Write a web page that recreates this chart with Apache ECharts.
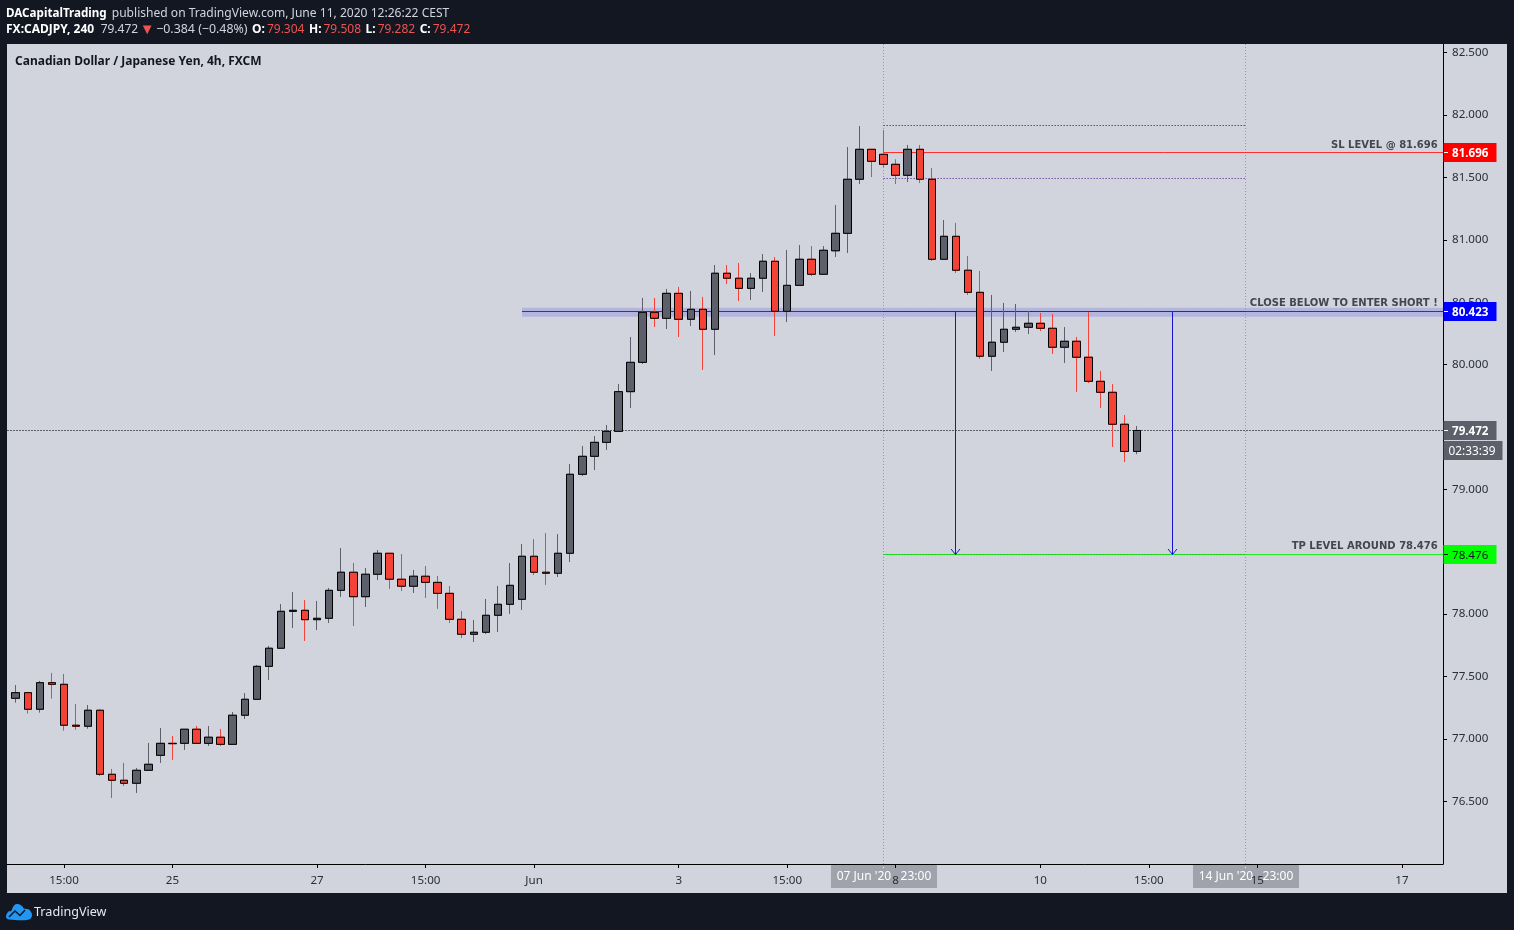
<!DOCTYPE html>
<html>
<head>
<meta charset="utf-8">
<style>html,body{margin:0;padding:0;background:#131722}#c{width:1514px;height:930px}</style>
<script src="https://cdn.jsdelivr.net/npm/echarts@6/dist/echarts.min.js"></script>
</head>
<body>
<div id="c"></div>
<script>
const opens=[77.326,77.371,77.238,77.451,77.438,77.110,77.102,77.230,76.717,76.669,76.645,76.749,76.869,76.965,76.965,77.078,76.965,77.014,76.957,77.190,77.318,77.582,77.727,78.023,78.031,77.956,77.967,78.191,78.336,78.140,78.320,78.488,78.280,78.224,78.304,78.255,78.167,77.959,77.839,77.855,77.991,78.079,78.119,78.464,78.336,78.328,78.488,79.121,79.265,79.377,79.465,79.783,80.018,80.419,80.371,80.571,80.363,80.443,80.283,80.732,80.692,80.611,80.692,80.828,80.427,80.635,80.844,80.724,80.912,81.052,81.485,81.725,81.685,81.605,81.517,81.725,81.485,80.844,81.028,80.756,80.579,80.067,80.179,80.283,80.299,80.331,80.291,80.139,80.187,80.059,79.866,79.778,79.522,79.304];
const highs=[77.432,77.371,77.465,77.529,77.521,77.280,77.272,77.240,76.760,76.808,76.768,76.968,77.088,77.024,77.078,77.104,77.104,77.080,77.216,77.368,77.593,77.745,78.082,78.178,78.114,78.106,78.210,78.530,78.410,78.370,78.514,78.488,78.482,78.354,78.386,78.306,78.226,78.026,77.953,78.122,78.226,78.410,78.562,78.602,78.650,78.642,79.203,79.348,79.428,79.516,79.844,80.221,80.534,80.534,80.606,80.622,80.590,80.542,80.798,80.798,80.814,80.734,80.886,80.862,80.918,80.958,80.950,80.950,81.279,81.744,81.912,81.725,81.880,81.645,81.760,81.760,81.575,81.159,81.135,80.870,80.750,80.558,80.494,80.486,80.430,80.414,80.406,80.301,80.221,80.422,79.949,79.844,79.596,79.508];
const lows=[77.291,77.203,77.211,77.323,77.066,77.074,77.082,76.703,76.527,76.623,76.567,76.749,76.808,76.832,76.912,76.965,76.944,76.944,76.957,77.160,77.318,77.473,77.727,77.889,77.785,77.873,77.929,78.138,77.905,78.058,78.274,78.202,78.186,78.170,78.130,78.042,77.929,77.809,77.777,77.841,77.857,78.002,78.034,78.314,78.234,78.298,78.418,79.107,79.155,79.316,79.460,79.652,80.005,80.301,80.285,80.221,80.309,79.957,80.077,80.646,80.509,80.518,80.582,80.229,80.341,80.635,80.710,80.724,80.862,80.894,81.447,81.503,81.581,81.447,81.463,81.455,80.830,80.844,80.734,80.558,80.045,79.949,80.101,80.261,80.245,80.269,80.085,80.013,79.780,79.852,79.652,79.340,79.219,79.282];
const closes=[77.371,77.238,77.451,77.438,77.110,77.102,77.230,76.717,76.669,76.645,76.749,76.797,76.965,76.962,77.078,76.965,77.014,76.957,77.190,77.318,77.582,77.727,78.023,78.031,77.956,77.967,78.191,78.336,78.140,78.320,78.488,78.280,78.224,78.304,78.255,78.167,77.959,77.839,77.855,77.991,78.079,78.231,78.464,78.336,78.328,78.488,79.121,79.265,79.377,79.465,79.783,80.018,80.419,80.371,80.571,80.363,80.443,80.283,80.732,80.692,80.611,80.692,80.828,80.427,80.635,80.844,80.724,80.916,81.052,81.485,81.725,81.629,81.605,81.517,81.725,81.485,80.844,81.028,80.756,80.579,80.067,80.179,80.283,80.299,80.331,80.291,80.139,80.187,80.059,79.866,79.778,79.522,79.304,79.472];

const xTickIndex=[4,13,25,34,43,55,64,73,85,94,103,115];
const xTickLabels=['15:00','25','27','15:00','Jun','3','15:00','8','10','15:00','15','17'];
const yTicks=[76.5,77,77.5,78,78.5,79,79.5,80,80.5,81,81.5,82,82.5];

const xMin=-0.7259, xMax=118.405, yMin=75.998, yMax=82.569;

const lastPrice=79.472, slPrice=81.696, entryPrice=80.423, tpPrice=78.476;
const boxTop=81.912, boxBottom=81.493;
const entryBand=[80.384,80.456];
const drawStart=72, drawEnd=102, entryStart=42;
const arrowBars=[78,96];

const tagPrices=[slPrice,entryPrice,lastPrice,tpPrice];
const tagTexts=['81.696','80.423','79.472','78.476'];
const countdownText='02:33:39';
const timeTagBars=[drawStart,drawEnd];
const timeTagTexts=["07 Jun '20   23:00","14 Jun '20   23:00"];
const noteBar=118;
const notePrices=[slPrice,entryPrice,tpPrice];
const noteTexts=['SL LEVEL @ 81.696','CLOSE BELOW TO ENTER SHORT !','TP LEVEL AROUND 78.476'];

const headerName='DACapitalTrading', headerPub='published on TradingView.com, June 11, 2020 12:26:22 CEST';
const symbolText='FX:CADJPY, 240', lastText='79.472', changeText='−0.384 (−0.48%)';
const ohlcText={O:'79.304',H:'79.508',L:'79.282',C:'79.472'};
const chartTitle='Canadian Dollar / Japanese Yen, 4h, FXCM';

const FONT='"Noto Sans", sans-serif';
const UP='#5d606b', DOWN='#f44336', PANE='#d1d4dc', DARK='#131722', ARROW='#1515d0';

const levelFrom=[xMin,drawStart,drawStart,drawStart,drawStart,entryStart,drawStart,drawStart];
const levelTo=[xMax,drawEnd,drawEnd,xMax,xMax,xMax,drawEnd,drawEnd];
const levelPrice=[lastPrice,boxTop,boxBottom,slPrice,tpPrice,entryPrice,entryPrice,tpPrice];
const levelLook=[
  {stroke:UP,lineDash:[2,1]},
  {stroke:'#131722',lineDash:[1,2]},
  {stroke:'#4a148c',lineDash:[1,2]},
  {stroke:'#ff3030'},
  {stroke:'#22ee22'},
  {stroke:'#2a2ad8'},
  {stroke:'rgba(19,23,34,0.55)',lineDash:[1,2]},
  {stroke:'rgba(19,23,34,0.3)',lineDash:[1,2]}
];
const snap=v=>Math.floor(v)+.5;

const tagStyle=[{fill:'#ff0000',ink:'#ffffff',bold:true,tick:'#fff'},{fill:'#0000ff',ink:'#ffffff',bold:true,tick:'#fff'},{fill:UP,ink:'#ffffff',bold:true,tick:'#fff'},{fill:'#00ff00',ink:'#131722',bold:false,tick:'#131722'}];

const series=[
  {type:'custom',coordinateSystem:'cartesian2d',z:1,silent:true,clip:false,
   data:[[entryStart,entryBand[1],xMax,entryBand[0]]],
   encode:{x:[0,2],y:[1,3]},
   renderItem:function(p,api){
     const a=api.coord([api.value(0),api.value(1)]), b=api.coord([api.value(2),api.value(3)]);
     return {type:'rect',shape:{x:a[0],y:a[1],width:b[0]-a[0],height:b[1]-a[1]},style:{fill:'rgba(60,60,230,0.2)'}};
   }},
  {type:'custom',coordinateSystem:'cartesian2d',z:2,silent:true,clip:false,
   data:timeTagBars.map(b=>[b,yMin,yMax]),encode:{x:0,y:[1,2]},
   renderItem:function(p,api){
     const a=api.coord([api.value(0),api.value(1)]), b=api.coord([api.value(0),api.value(2)]);
     const x=snap(a[0]);
     return {type:'line',shape:{x1:x,y1:a[1],x2:x,y2:b[1]},style:{stroke:'#9598a1',lineWidth:1,lineDash:[1,2]}};
   }},
  {type:'custom',coordinateSystem:'cartesian2d',z:2,silent:true,clip:false,
   data:levelPrice.map((v,i)=>[levelFrom[i],v,levelTo[i]]),encode:{x:[0,2],y:1},
   renderItem:function(p,api){
     const a=api.coord([api.value(0),api.value(1)]), b=api.coord([api.value(2),api.value(1)]);
     const y=snap(a[1]);
     return {type:'line',shape:{x1:a[0],y1:y,x2:b[0],y2:y},style:Object.assign({lineWidth:1},levelLook[p.dataIndex])};
   }},
  {type:'custom',coordinateSystem:'cartesian2d',z:3,silent:true,clip:false,
   data:arrowBars.map(b=>[b,entryPrice,tpPrice]),encode:{x:0,y:[1,2]},
   renderItem:function(p,api){
     const a=api.coord([api.value(0),api.value(1)]), b=api.coord([api.value(0),api.value(2)]);
     const x=snap(a[0]), y=snap(b[1]);
     return {type:'group',children:[
       {type:'line',shape:{x1:x,y1:a[1],x2:x,y2:y},style:{stroke:ARROW,lineWidth:1}},
       {type:'polyline',shape:{points:[[x-4.5,y-5.5],[x,y],[x+4.5,y-5.5]]},style:{stroke:ARROW,lineWidth:1,fill:'none'}}
     ]};
   }},
  {type:'custom',coordinateSystem:'cartesian2d',z:1,silent:true,clip:false,
   data:timeTagBars.map(b=>[b,yMin]),
   renderItem:function(p,api){
     const c=api.coord([api.value(0),yMin]);
     const x=Math.floor(c[0]);
     return {type:'group',children:[
       {type:'rect',shape:{x:x-52,y:c[1]+1,width:106,height:23},style:{fill:'#a0a3ab'}},
       {type:'text',style:{x:x+1,y:c[1]+13,text:timeTagTexts[p.dataIndex],fill:'#fff',font:'12px '+FONT,textAlign:'center',textVerticalAlign:'middle'}},
       {type:'line',shape:{x1:x+.5,y1:c[1],x2:x+.5,y2:c[1]+5},style:{stroke:'#fff',lineWidth:1,lineDash:[1,2]}}
     ]};
   }},
  {type:'candlestick',name:'CADJPY',z:4,barWidth:8,silent:true,
   data:opens.map((o,i)=>[i,o,closes[i],lows[i],highs[i]]),
   itemStyle:{color:UP,color0:DOWN,borderColor:UP,borderColor0:DOWN,borderWidth:1}},
  {type:'candlestick',name:'body',z:5,barWidth:8,silent:true,
   data:opens.map((o,i)=>[i,o,closes[i],Math.min(o,closes[i]),Math.max(o,closes[i])]),
   itemStyle:{color:UP,color0:DOWN,borderColor:'#000',borderColor0:'#000',borderWidth:1}},
  {type:'custom',coordinateSystem:'cartesian2d',z:6,silent:true,clip:false,
   data:notePrices.map(v=>[noteBar,v]),
   renderItem:function(p,api){
     const c=api.coord([api.value(0),api.value(1)]);
     return {type:'text',style:{x:c[0]-.4,y:c[1]-3,text:noteTexts[p.dataIndex],fill:'#434651',font:'bold 10px "DejaVu Sans", sans-serif',textAlign:'right',textVerticalAlign:'bottom'}};
   }},
  {type:'custom',coordinateSystem:'cartesian2d',z:20,silent:true,clip:false,
   data:tagPrices.map(v=>[xMax,v]),
   renderItem:function(p,api){
     const c=api.coord([api.value(0),api.value(1)]);
     const s=tagStyle[p.dataIndex];
     const y=Math.floor(c[1]);
     const kids=[
       {type:'rect',shape:{x:c[0]+.5,y:y-9,width:53,height:19},style:{fill:s.fill}},
       {type:'line',shape:{x1:c[0]+1,y1:y+.5,x2:c[0]+5,y2:y+.5},style:{stroke:s.tick,lineWidth:1}},
       {type:'text',style:{x:c[0]+9,y:y+2,text:tagTexts[p.dataIndex],fill:s.ink,font:(s.bold?'bold ':'')+'11.6px '+FONT,textAlign:'left',textVerticalAlign:'middle'}}
     ];
     if(p.dataIndex===2){
       kids.push({type:'rect',shape:{x:c[0]+.5,y:y+11,width:59,height:19},style:{fill:UP}});
       kids.push({type:'text',style:{x:c[0]+29,y:y+22,text:countdownText,fill:'#fff',font:'11.8px '+FONT,textAlign:'center',textVerticalAlign:'middle'}});
     }
     return {type:'group',children:kids};
   }}
];

const labelColor='#2a2e39';
const nrm={fontFamily:FONT,fontSize:12,fontWeight:'normal',color:'#d1d4dc'};
const bld={fontFamily:FONT,fontSize:12,fontWeight:'bold',color:'#fff'};
const red={fontFamily:FONT,fontSize:12,fontWeight:'normal',color:'#ef5350'};
const tri={fontFamily:FONT,fontSize:15,fontWeight:'normal',color:'#ef5350'};
const option={
  animation:false,
  backgroundColor:DARK,
  title:[
    {left:6,top:5,padding:0,text:'{b|'+headerName+'} {n|'+headerPub+'}',
     textStyle:{fontWeight:'normal',rich:{b:Object.assign({},bld,{fontSize:11.65}),n:Object.assign({},nrm,{fontSize:12.07})}}},
    {left:6,top:22,padding:0,text:'{b|'+symbolText+'}{w| }{n|'+lastText+'}{t|▼}{c|'+changeText+'}{s| }{b|O:}{g| }{r|'+ohlcText.O+'}{s| }{b|H:}{g| }{r|'+ohlcText.H+'}{s| }{b|L:}{g| }{r|'+ohlcText.L+'}{s| }{b|C:}{g| }{r|'+ohlcText.C+'}',
     textStyle:{fontWeight:'normal',rich:{b:bld,n:nrm,c:Object.assign({},nrm,{fontSize:12.4}),r:red,t:Object.assign({},tri,{width:18,align:'center'}),s:{width:4.5,fontSize:12},w:{width:6.5,fontSize:12},g:{width:2,fontSize:12}}}},
    {left:15,top:56,padding:0,text:chartTitle,textStyle:{fontFamily:FONT,fontSize:12,fontWeight:'bold',color:'#131722'}}
  ],
  grid:{left:7,top:44,width:1436,height:820,containLabel:false},
  xAxis:{type:'value',min:xMin,max:xMax,z:10,splitLine:{show:false},
    axisLine:{show:true,onZero:false,lineStyle:{color:'#000',width:1}},
    axisTick:{show:true,length:4,customValues:xTickIndex,lineStyle:{color:'#000'}},
    axisLabel:{show:true,margin:11,color:labelColor,fontFamily:FONT,fontSize:11.6,customValues:xTickIndex,
      showMinLabel:true,showMaxLabel:true,
      formatter:function(v){const i=xTickIndex.indexOf(v);return i<0?'':xTickLabels[i];}}},
  yAxis:{type:'value',position:'right',min:yMin,max:yMax,z:10,splitLine:{show:false},
    axisLine:{show:true,onZero:false,lineStyle:{color:'#000',width:1}},
    axisTick:{show:true,length:4,customValues:yTicks,lineStyle:{color:'#000'}},
    axisLabel:{show:true,margin:9,padding:[2,0,0,0],color:labelColor,fontFamily:FONT,fontSize:11.6,customValues:yTicks,
      formatter:function(v){return v.toFixed(3);}}},
  graphic:[
    {type:'rect',z:-10,silent:true,shape:{x:7,y:44,width:1500,height:849},style:{fill:PANE}},
    {type:'polygon',z:5,silent:true,shape:{smooth:0.4,points:[[6,917],[8,912],[11,911],[14,905.5],[18,904],[22,906],[24,908.5],[29,909.5],[32,915],[29,919.5],[9,919.5]]},style:{fill:'#2196f3'}},
    {type:'polyline',z:6,silent:true,shape:{points:[[9,917],[15,911],[20,915.5],[25,910]]},style:{stroke:DARK,lineWidth:1.5,fill:'none'}},
    {type:'text',z:6,silent:true,x:34,y:906,style:{text:'TradingView',fill:'#e6e8ef',font:'12.6px '+FONT}}
  ],
  series:series
};
const chart=echarts.init(document.getElementById('c'),null,{renderer:'canvas',width:1514,height:930});
chart.setOption(option);
</script>
</body>
</html>
